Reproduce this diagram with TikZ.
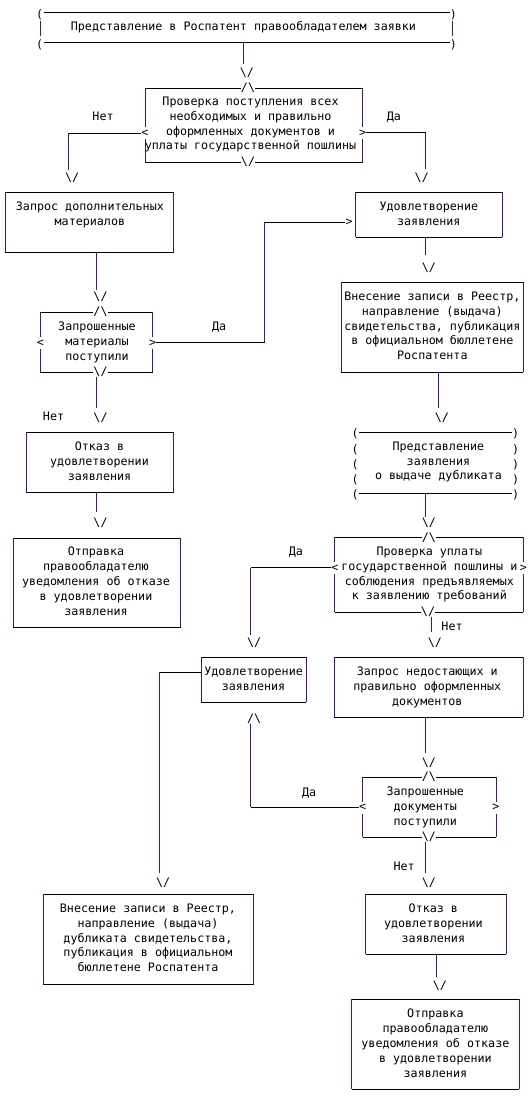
\documentclass[tikz,border=0pt]{standalone}
\usepackage{fontspec}
\newfontfamily\monof{DejaVu Sans Mono}
\usetikzlibrary{fit}
\definecolor{vc}{RGB}{72,18,118}
\newcommand\arrdn{\textbackslash/}
\newcommand\arrup{/\textbackslash}
\newcommand\sidesof[1]{%
 \draw[hl] (#1.north west) -- (#1.north east) (#1.south west) -- (#1.south east);
 \draw[vl] (#1.north west) -- (#1.south west) (#1.north east) -- (#1.south east);}
\begin{document}
\begin{tikzpicture}[x=1.0102pt,y=-1pt,
 mono/.style={font=\monof\fontsize{11.7}{14.95}\selectfont},
 txt/.style={mono,align=center,inner sep=0pt,execute at begin node=\strut,execute at end node=\strut},
 lbl/.style={txt},
 gl/.style={mono,inner sep=0pt,fill=white},
 sidegl/.style={gl,minimum height=12pt},
 frame/.style={draw=none,inner sep=0pt,outer sep=0pt},
 hl/.style={black,line width=1pt},
 vl/.style={vc,line width=1pt},
]
\path[use as bounding box,fill=white] (0pt,0pt) rectangle (528pt,-1096pt);

% ---------- top box
\node[frame,fit={(40,12.5) (448,42.7)}] (T) {};
\draw[hl] (43.5,12.5) -- (445.5,12.5) (43.5,42.7) -- (445.5,42.7);
\draw[vl] (40,21) -- (40,36) (448,21) -- (448,36);
\node[mono,inner sep=0pt] (tp1) at (39.3,15) {(};
\node[mono,inner sep=0pt] (tp2) at (39.3,45.2) {(};
\node[mono,inner sep=0pt] (tp3) at (448.8,15) {)};
\node[mono,inner sep=0pt] (tp4) at (448.8,45.2) {)};
\node[txt] (Tt) at (241,28) {Представление в Роспатент правообладателем заявки};

% ---------- D1
\node[frame,fit={(144,88) (359,162)}] (D1) {};
\sidesof{D1}
\node[txt] (D1t) at (248,125.5) {Проверка поступления всех\\необходимых и правильно\\оформленных документов и\\уплаты государственной пошлины};
\node[gl] (g2) at (245.5,88) {\arrup};
\node[gl] (g3) at (245.5,162) {\arrdn};
\node[sidegl] (lt1) at (143.5,133) {<};
\node[sidegl] (gt1) at (359,133) {>};
\node[lbl] (L1) at (102,118) {Нет};
\node[lbl] (L2) at (390,118) {Да};

% ---------- B2, B3
\node[frame,fit={(5,192) (172,252)}] (B2) {};
\sidesof{B2}
\node[txt] (B2t) at (89,215.5) {Запрос дополнительных\\материалов};
\node[frame,fit={(352,192) (497,237)}] (B3) {};
\sidesof{B3}
\node[txt] (B3t) at (424.5,215.5) {Удовлетворение\\заявления};

% ---------- D2
\node[frame,fit={(40,312) (151,372)}] (D2) {};
\sidesof{D2}
\node[txt] (D2t) at (96,343) {Запрошенные\\материалы\\поступили};
\node[gl] (g7) at (99.5,312) {\arrup};
\node[gl] (g8) at (99.5,372) {\arrdn};
\node[sidegl] (lt2) at (40,343) {<};
\node[sidegl] (gt2) at (151,343) {>};
\node[lbl] (L3) at (217,328) {Да};
\node[gl] (ar1) at (345.5,222.3) {>};

% ---------- B5
\node[frame,fit={(338,282) (518,372)}] (B5) {};
\sidesof{B5}
\node[txt] (B5t) at (428,328) {Внесение записи в Реестр,\\направление (выдача)\\свидетельства, публикация\\в официальном бюллетене\\Роспатента};

% ---------- B6, B7
\node[frame,fit={(26,432) (172,492)}] (B6) {};
\sidesof{B6}
\node[txt] (B6t) at (98.5,463) {Отказ в\\удовлетворении\\заявления};
\node[lbl] (L4) at (53,418) {Нет};
\node[frame,fit={(13,538) (179,627)}] (B7) {};
\sidesof{B7}
\node[txt] (B7t) at (95,583) {Отправка\\правообладателю\\уведомления об отказе\\в удовлетворении\\заявления};

% ---------- P2
\node[frame,fit={(352,432.3) (510,493.3)}] (P2) {};
\draw[hl] (355.5,432.3) -- (507,432.3) (355.5,493.3) -- (507,493.3);
\foreach \yy/\nn in {434/1,449.5/2,464.5/3,479.5/4,495/5}{
  \node[mono,inner sep=0pt] (pl\nn) at (351.5,\yy) {(};
  \node[mono,inner sep=0pt] (pr\nn) at (510.5,\yy) {)};
}
\node[txt] (P2t) at (434,463) {Представление\\заявления\\о выдаче дубликата};

% ---------- D3
\node[frame,fit={(331.6,537.3) (518,612)}] (D3) {};
\sidesof{D3}
\node[txt] (D3t) at (425,575.5) {Проверка уплаты\\государственной пошлины и\\соблюдения предъявляемых\\к заявлению требований};
\node[gl] (g14) at (424.5,537.3) {\arrup};
\node[gl] (g15) at (423.7,612) {\arrdn};
\node[sidegl] (lt3) at (331.6,568) {<};
\node[sidegl] (gt3) at (518,568) {>};
\node[lbl] (L5) at (293,553) {Да};
\node[lbl] (L6) at (447.5,627.5) {Нет};

% ---------- B11, B12
\node[frame,fit={(199,657) (303,702)}] (B11) {};
\sidesof{B11}
\node[txt] (B11t) at (251,680.5) {Удовлетворение\\заявления};
\node[frame,fit={(331,657) (518,717)}] (B12) {};
\sidesof{B12}
\node[txt] (B12t) at (423,688) {Запрос недостающих и\\правильно оформленных\\документов};

% ---------- D4
\node[frame,fit={(359,777) (491,837)}] (D4) {};
\sidesof{D4}
\node[txt] (D4t) at (421,808) {Запрошенные\\документы\\поступили};
\node[gl] (g20) at (424.5,777) {\arrup};
\node[gl] (g21) at (424.5,837) {\arrdn};
\node[sidegl] (lt4) at (359,807.5) {<};
\node[sidegl] (gt4) at (491,807.5) {>};
\node[lbl] (L7) at (306,793) {Да};
\node[lbl] (L8) at (400,867) {Нет};
\node[gl] (g18) at (251.5,718.5) {\arrup};

% ---------- B14, B15, B16
\node[frame,fit={(43,894) (251,984)}] (B14) {};
\sidesof{B14}
\node[txt] (B14t) at (146.5,940) {Внесение записи в Реестр,\\направление (выдача)\\дубликата свидетельства,\\публикация в официальном\\бюллетене Роспатента};
\node[frame,fit={(362,894) (501,954)}] (B15) {};
\sidesof{B15}
\node[txt] (B15t) at (429,925) {Отказ в\\удовлетворении\\заявления};
\node[frame,fit={(348,999) (514,1089)}] (B16) {};
\sidesof{B16}
\node[txt] (B16t) at (431,1045) {Отправка\\правообладателю\\уведомления об отказе\\в удовлетворении\\заявления};

% ---------- arrow glyphs between boxes
\node[gl] (g1) at (244.5,73) {\arrdn};
\node[gl] (g4) at (71.5,177.5) {\arrdn};
\node[gl] (g5) at (417.5,177.5) {\arrdn};
\node[gl] (g6) at (99.5,297) {\arrdn};
\node[gl] (g9) at (424.5,268) {\arrdn};
\node[gl] (g10) at (437.5,418) {\arrdn};
\node[gl] (g11) at (99.5,418) {\arrdn};
\node[gl] (g12) at (99.5,523) {\arrdn};
\node[gl] (g13) at (424.5,523) {\arrdn};
\node[gl] (g16) at (251.5,643) {\arrdn};
\node[gl] (g17) at (430.6,643) {\arrdn};
\node[gl] (g19) at (424.5,763) {\arrdn};
\node[gl] (g22) at (161.5,883) {\arrdn};
\node[gl] (g23) at (424.5,883) {\arrdn};
\node[gl] (g24) at (435.5,986) {\arrdn};

% ---------- connectors
\coordinate (e1) at (241,64);
\draw[vl] (T.south -| e1) -- (e1);

\coordinate (k2) at (68,133); \coordinate (e2) at (68,170);
\draw[hl] (lt1.west |- k2) -- (k2); \draw[vl] (k2) -- (e2);

\coordinate (k3) at (421.4,132.5); \coordinate (e3) at (421.4,169);
\draw[hl] (gt1.east |- k3) -- (k3); \draw[vl] (k3) -- (e3);

\coordinate (e4) at (96,290);
\draw[vl] (B2.south -| e4) -- (e4);

\coordinate (k5a) at (262,342.3); \coordinate (k5b) at (262,222.3);
\draw[hl] (gt2.east |- k5a) -- (k5a); \draw[vl] (k5a) -- (k5b); \draw[hl] (k5b) -- (ar1.west);

\coordinate (e6) at (421,255);
\draw[vl] (B3.south -| e6) -- (e6);

\coordinate (e7) at (434,408);
\draw[vl] (B5.south -| e7) -- (e7);

\coordinate (e8) at (96,408);
\draw[vl] (g8.south -| e8) -- (e8);

\coordinate (e9) at (96,512);
\draw[vl] (B6.south -| e9) -- (e9);

\coordinate (e10) at (421,517);
\draw[vl] (P2.south -| e10) -- (e10);

\coordinate (k11) at (248,567.5); \coordinate (e11) at (248,635);
\draw[hl] (lt3.west |- k11) -- (k11); \draw[vl] (k11) -- (e11);

\coordinate (e12) at (427.3,632);
\draw[vl] (g15.south -| e12) -- (e12);

\coordinate (k13) at (158,672.3); \coordinate (e13) at (158,873);
\draw[hl] (B11.west |- k13) -- (k13); \draw[vl] (k13) -- (e13);

\coordinate (k14) at (248,807.3);
\draw[vl] (g18.south -| k14) -- (k14); \draw[hl] (k14) -- (lt4.west |- k14);

\coordinate (e15) at (421,753);
\draw[vl] (B12.south -| e15) -- (e15);

\coordinate (e16) at (421,873);
\draw[vl] (g21.south -| e16) -- (e16);

\coordinate (e17) at (432,977);
\draw[vl] (B15.south -| e17) -- (e17);
\end{tikzpicture}
\end{document}
